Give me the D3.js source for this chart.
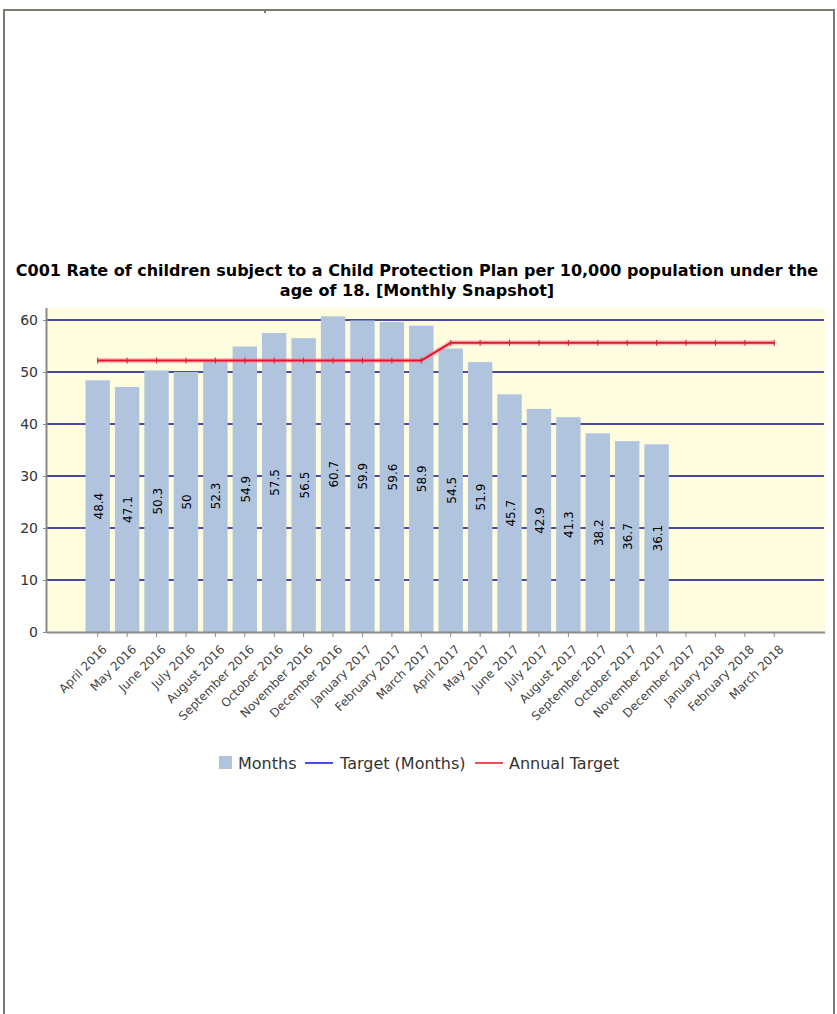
<!DOCTYPE html>
<html>
<head>
<meta charset="utf-8">
<script src="https://cdn.jsdelivr.net/npm/d3@7"></script>
<style>
    body { margin: 0; background: #fff; }
    svg { display: block; }
</style>
</head>
<body>
<div id="chart"></div>
<script>
var months = ["April 2016", "May 2016", "June 2016", "July 2016", "August 2016", "September 2016",
    "October 2016", "November 2016", "December 2016", "January 2017", "February 2017", "March 2017",
    "April 2017", "May 2017", "June 2017", "July 2017", "August 2017", "September 2017",
    "October 2017", "November 2017", "December 2017", "January 2018", "February 2018", "March 2018"];
var monthValues = [48.4, 47.1, 50.3, 50, 52.3, 54.9, 57.5, 56.5, 60.7, 59.9, 59.6, 58.9,
    54.5, 51.9, 45.7, 42.9, 41.3, 38.2, 36.7, 36.1];
var annualTarget = [52.2, 52.2, 52.2, 52.2, 52.2, 52.2, 52.2, 52.2, 52.2, 52.2, 52.2, 52.2,
    55.6, 55.6, 55.6, 55.6, 55.6, 55.6, 55.6, 55.6, 55.6, 55.6, 55.6, 55.6];
var yTicks = [0, 10, 20, 30, 40, 50, 60];
var titleLines = ["C001 Rate of children subject to a Child Protection Plan per 10,000 population under the",
    "age of 18. [Monthly Snapshot]"];
var legendItems = ["Months", "Target (Months)", "Annual Target"];

var width = 837, height = 1014;
var plot = { left: 47, right: 824, top: 308, bottom: 632 };
var font = "'DejaVu Sans', Verdana, sans-serif";

var svg = d3.select("#chart").append("svg")
    .attr("width", width)
    .attr("height", height);

// outer frame
svg.append("rect")
    .attr("x", 4).attr("y", 10)
    .attr("width", 830).attr("height", 1020)
    .style("fill", "#fff")
    .style("stroke", "#7b7b70")
    .style("stroke-width", 2);
svg.append("rect")
    .attr("x", 264).attr("y", 11).attr("width", 2).attr("height", 2)
    .style("fill", "#7b7b70");

// title
svg.selectAll(".title").data(titleLines).enter().append("text")
    .attr("class", "title")
    .attr("x", 417)
    .attr("y", function(d, i) { return 276 + i * 20; })
    .attr("text-anchor", "middle")
    .style("font-family", font)
    .style("font-weight", "bold")
    .style("font-size", "16px")
    .style("fill", "#000")
    .text(function(d) { return d; });

var x = d3.scaleBand()
    .domain(months)
    .range([83, 789])
    .paddingInner(0.17)
    .paddingOuter(0.085);

var y = d3.scaleLinear()
    .domain([0, 62.3])
    .range([plot.bottom, plot.top]);

// plot background
svg.append("rect")
    .attr("x", plot.left).attr("y", plot.top)
    .attr("width", plot.right - plot.left + 1)
    .attr("height", plot.bottom - plot.top)
    .style("fill", "#fffde0");

// grid lines
svg.selectAll(".grid").data(yTicks.filter(function(d) { return d > 0; })).enter().append("line")
    .attr("class", "grid")
    .attr("x1", plot.left).attr("x2", plot.right)
    .attr("y1", function(d) { return y(d); })
    .attr("y2", function(d) { return y(d); })
    .style("stroke", "#0c0c88")
    .style("stroke-width", 1.6);

// bars
var barData = monthValues.map(function(v, i) { return { month: months[i], value: v }; });
svg.selectAll(".bar").data(barData).enter().append("rect")
    .attr("class", "bar")
    .attr("x", function(d) { return x(d.month); })
    .attr("y", function(d) { return y(d.value); })
    .attr("width", x.bandwidth())
    .attr("height", function(d) { return y(0) - y(d.value); })
    .style("fill", "#b0c4de");

// value labels
svg.selectAll(".vlabel").data(barData).enter().append("text")
    .attr("class", "vlabel")
    .attr("transform", function(d) {
        var cx = x(d.month) + x.bandwidth() / 2;
        var cy = (y(d.value) + y(0)) / 2;
        return "translate(" + (cx + 5) + "," + cy + ") rotate(-90)";
    })
    .attr("text-anchor", "middle")
    .style("font-family", font)
    .style("font-size", "12px")
    .style("fill", "#000")
    .text(function(d) { return d.value; });

// annual target line
var lineData = annualTarget.map(function(v, i) { return { month: months[i], value: v }; });
var line = d3.line()
    .x(function(d) { return x(d.month) + x.bandwidth() / 2; })
    .y(function(d) { return y(d.value); });
svg.append("path")
    .datum(lineData)
    .attr("d", line)
    .style("fill", "none")
    .style("stroke", "#ff8090")
    .style("stroke-opacity", 0.45)
    .style("stroke-width", 5);
svg.append("path")
    .datum(lineData)
    .attr("d", line)
    .style("fill", "none")
    .style("stroke", "#e8102a")
    .style("stroke-width", 2);
svg.selectAll(".lmark").data(lineData).enter().append("line")
    .attr("class", "lmark")
    .attr("x1", function(d) { return x(d.month) + x.bandwidth() / 2; })
    .attr("x2", function(d) { return x(d.month) + x.bandwidth() / 2; })
    .attr("y1", function(d) { return y(d.value) - 3; })
    .attr("y2", function(d) { return y(d.value) + 3; })
    .style("stroke", "#d0203a")
    .style("stroke-width", 1);

// axes
var axisColor = "#8a8a8a";
var yAxis = svg.append("g")
    .attr("transform", "translate(" + plot.left + ",0)")
    .call(d3.axisLeft(y).tickValues(yTicks).tickSize(4).tickPadding(5));
var xAxis = svg.append("g")
    .attr("transform", "translate(0," + plot.bottom + ")")
    .call(d3.axisBottom(x).tickSize(5).tickSizeOuter(0));
xAxis.select(".domain").attr("d", "M" + plot.left + ",0.5H" + (plot.right + 1));
yAxis.select(".domain").attr("d", "M-0.5," + plot.top + "V" + plot.bottom);
[xAxis, yAxis].forEach(function(g) {
    g.select(".domain").style("stroke", axisColor).style("stroke-width", 2);
    g.selectAll(".tick line").style("stroke", axisColor);
});
yAxis.selectAll(".tick text")
    .style("font-family", font)
    .style("font-size", "14px")
    .style("fill", "#333");
xAxis.selectAll(".tick text")
    .attr("text-anchor", "end")
    .attr("dy", null)
    .attr("y", 0)
    .attr("transform", "translate(10,18) rotate(-45)")
    .style("font-family", font)
    .style("font-size", "12px")
    .style("fill", "#444");

// legend
var legend = svg.append("g").attr("transform", "translate(0,763)");
legend.append("rect")
    .attr("x", 219).attr("y", -7).attr("width", 13).attr("height", 13)
    .style("fill", "#b0c4de");
legend.append("line")
    .attr("x1", 305).attr("x2", 333).attr("y1", 0).attr("y2", 0)
    .style("stroke", "#1010e0").style("stroke-width", 1.5);
legend.append("line")
    .attr("x1", 475).attr("x2", 503).attr("y1", 0).attr("y2", 0)
    .style("stroke", "#e81020").style("stroke-width", 1.5);
legend.selectAll(".ltext").data(legendItems).enter().append("text")
    .attr("class", "ltext")
    .attr("x", function(d, i) { return [238, 340, 509][i]; })
    .attr("y", 6)
    .style("font-family", font)
    .style("font-size", "16px")
    .style("fill", "#333")
    .text(function(d) { return d; });
</script>
</body>
</html>
